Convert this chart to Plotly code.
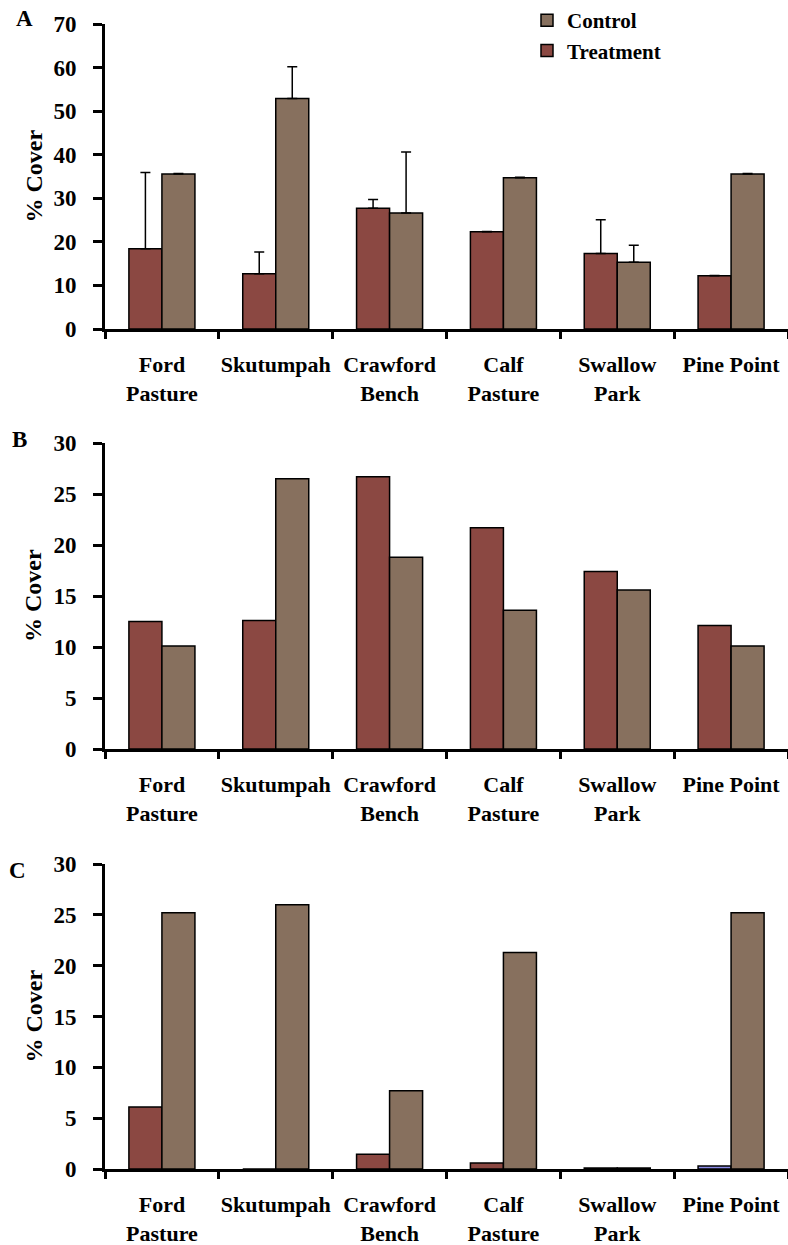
import plotly.graph_objects as go

# Sites along the x axis
sites = ["Ford<br>Pasture", "Skutumpah", "Crawford<br>Bench", "Calf<br>Pasture",
         "Swallow<br>Park", "Pine Point"]

# Panel A: % cover with one-sided (upper) error bars
a_treatment = [18.4, 12.7, 27.7, 22.3, 17.3, 12.2]
a_treatment_err = [17.5, 5.0, 2.0, 0.1, 7.8, 0.1]
a_control = [35.6, 52.9, 26.6, 34.7, 15.3, 35.6]
a_control_err = [0.1, 7.3, 14.0, 0.1, 3.9, 0.1]

# Panel B
b_treatment = [12.5, 12.6, 26.7, 21.7, 17.4, 12.1]
b_control = [10.1, 26.5, 18.8, 13.6, 15.6, 10.1]

# Panel C
c_treatment = [6.1, 0.0, 1.45, 0.6, 0.1, 0.3]
c_control = [25.2, 26.0, 7.7, 21.3, 0.1, 25.2]

TREAT = "#8B4842"
CTRL = "#87705E"
ODD = "#8C8CE6"
FONT = "Liberation Serif"
W, H = 788, 1245

fig = go.Figure()

panels = [
    ("A", a_treatment, a_control, a_treatment_err, a_control_err, 70, 10, (24, 329)),
    ("B", b_treatment, b_control, None, None, 30, 5, (443, 749)),
    ("C", c_treatment, c_control, None, None, 30, 5, (864, 1169)),
]

letter_pos = {"A": (24, 19), "B": (19.5, 439), "C": (17.5, 870)}

for i, (name, tr, ct, tr_err, ct_err, ymax, dy, (top, bot)) in enumerate(panels):
    k = "" if i == 0 else str(i + 1)
    xa, ya = "x" + k, "y" + k
    tr_colors = [TREAT] * len(tr)
    if name == "C":
        tr_colors[-1] = ODD

    def err(vals):
        if vals is None:
            return None
        return dict(type="data", symmetric=False, array=vals,
                    arrayminus=[0] * len(vals), color="black",
                    thickness=1.5, width=5)

    fig.add_trace(go.Bar(
        x=sites, y=tr, name="Treatment", xaxis=xa, yaxis=ya,
        marker=dict(color=tr_colors, line=dict(color="black", width=1.5)),
        error_y=err(tr_err), showlegend=(i == 0), legendrank=2,
    ))
    fig.add_trace(go.Bar(
        x=sites, y=ct, name="Control", xaxis=xa, yaxis=ya,
        marker=dict(color=CTRL, line=dict(color="black", width=1.5)),
        error_y=err(ct_err), showlegend=(i == 0), legendrank=1,
    ))

    dom_y = [1 - bot / H, 1 - top / H]
    fig.layout["xaxis" + k] = dict(
        domain=[105 / W, 1], anchor=ya, type="category", tickangle=0,
        tickson="boundaries", ticks="outside", ticklen=7, tickwidth=3,
        tickcolor="black", showline=True, linewidth=3, linecolor="black",
        showgrid=False, zeroline=False, ticklabelstandoff=14, automargin=False,
        tickfont=dict(family=FONT, size=22, color="black", weight="bold"),
    )
    fig.layout["yaxis" + k] = dict(
        domain=dom_y, anchor=xa, range=[0, ymax], dtick=dy,
        ticks="outside", ticklen=9, tickwidth=3, tickcolor="black",
        showline=True, linewidth=3, linecolor="black", showgrid=False,
        zeroline=False, ticklabelstandoff=12, automargin=False,
        tickfont=dict(family=FONT, size=23, color="black", weight="bold"),
    )

    lx, ly = letter_pos[name]
    fig.add_annotation(x=lx / W, y=1 - ly / H, xref="paper", yref="paper",
                       text=name, showarrow=False, xanchor="center", yanchor="middle",
                       font=dict(family=FONT, size=23, color="black", weight="bold"))
    fig.add_annotation(x=33 / W, y=1 - (top + bot) / 2 / H, xref="paper", yref="paper",
                       text="% Cover", textangle=-90, showarrow=False,
                       xanchor="center", yanchor="middle",
                       font=dict(family=FONT, size=24, color="black", weight="bold"))

fig.update_layout(
    width=W, height=H, margin=dict(l=0, r=0, t=0, b=0, autoexpand=False),
    paper_bgcolor="white", plot_bgcolor="white",
    barmode="group", bargap=0.42, bargroupgap=0,
    legend=dict(x=527 / W, y=1, xanchor="left", yanchor="top",
                bgcolor="rgba(0,0,0,0)", tracegroupgap=0,
                font=dict(family=FONT, size=21, color="black", weight="bold")),
    showlegend=True,
)

fig.write_html("out.html")
